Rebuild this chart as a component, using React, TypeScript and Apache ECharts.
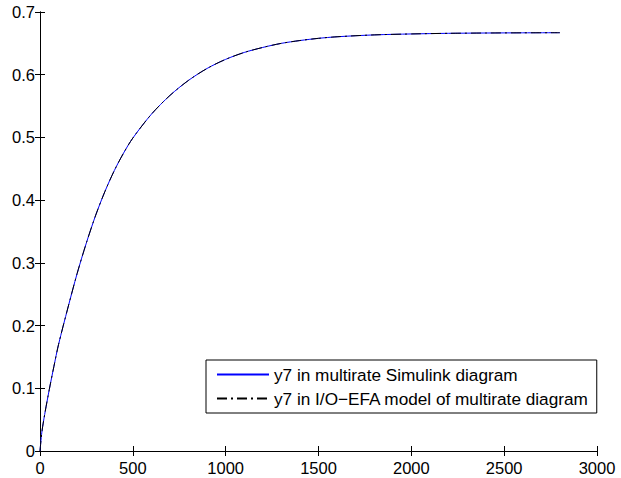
import React, { useEffect, useRef } from "react";
import * as echarts from "echarts";

const timeSteps = [0, 10, 25, 50, 75, 100, 150, 200, 250, 300, 350, 400, 450, 500, 600, 700, 800, 900, 1000, 1100, 1200, 1300, 1400, 1500, 1600, 1800, 2000, 2200, 2400, 2600, 2800];
const y7Simulink = [0, 0.03, 0.058, 0.098, 0.135, 0.17, 0.228, 0.283, 0.332, 0.376, 0.414, 0.447, 0.475, 0.499, 0.537, 0.567, 0.591, 0.61, 0.6245, 0.6355, 0.6435, 0.65, 0.6545, 0.658, 0.6605, 0.6635, 0.665, 0.666, 0.6665, 0.6668, 0.667];
const y7Efa = [0, 0.03, 0.058, 0.098, 0.135, 0.17, 0.228, 0.283, 0.332, 0.376, 0.414, 0.447, 0.475, 0.499, 0.537, 0.567, 0.591, 0.61, 0.6245, 0.6355, 0.6435, 0.65, 0.6545, 0.658, 0.6605, 0.6635, 0.665, 0.666, 0.6665, 0.6668, 0.667];
const seriesNames = ["y7 in multirate Simulink diagram", "y7 in I/O\u2212EFA model of multirate diagram"];

const FONT = "'Liberation Sans', Arial, Helvetica, sans-serif";

export default function App() {
  const ref = useRef<HTMLDivElement>(null);
  useEffect(() => {
    if (!ref.current) return;
    const chart = echarts.init(ref.current, undefined, { renderer: "svg" });
    const axisLine = { show: true, lineStyle: { color: "#000", width: 1 } };
    const tick = { show: true, inside: true, length: 5, lineStyle: { color: "#000", width: 1 } };
    chart.setOption({
      animation: false,
      backgroundColor: "#fff",
      grid: { left: 40, right: 24, top: 12, bottom: 27, containLabel: false },
      xAxis: [
        {
          type: "value", min: 0, max: 3000, interval: 500, position: "bottom",
          axisLine, axisTick: tick, splitLine: { show: false },
          axisLabel: { color: "#000", fontSize: 16.5, fontFamily: FONT, margin: 8, formatter: (v: number) => String(v) },
        },
        {
          type: "value", min: 0, max: 3000, interval: 500, position: "top",
          axisLine, axisTick: tick, splitLine: { show: false }, axisLabel: { show: false },
        },
      ],
      yAxis: [
        {
          type: "value", min: 0, max: 0.7, interval: 0.1, position: "left",
          axisLine, axisTick: tick, splitLine: { show: false },
          axisLabel: { color: "#000", fontSize: 16.5, fontFamily: FONT, margin: 5 },
        },
        {
          type: "value", min: 0, max: 0.7, interval: 0.1, position: "right",
          axisLine, axisTick: tick, splitLine: { show: false }, axisLabel: { show: false },
        },
      ],
      legend: {
        left: 206, top: 360, orient: "vertical",
        backgroundColor: "#fff", borderColor: "#000", borderWidth: 1, borderRadius: 0,
        padding: [6, 8, 6, 10], itemWidth: 52, itemHeight: 14, itemGap: 7,
        itemStyle: { opacity: 0 },
        textStyle: { color: "#000", fontSize: 17.2, fontFamily: FONT },
        data: seriesNames,
      },
      series: [
        {
          name: seriesNames[0], type: "line", symbol: "none", smooth: 0.3,
          lineStyle: { color: "#0000ff", width: 1 }, itemStyle: { color: "#0000ff" },
          data: timeSteps.map((t, i) => [t, y7Simulink[i]]),
        },
        {
          name: seriesNames[1], type: "line", symbol: "none", smooth: 0.3,
          lineStyle: { color: "#000", width: 1, type: [10, 4, 2, 4] }, itemStyle: { color: "#000" },
          data: timeSteps.map((t, i) => [t, y7Efa[i]]),
        },
      ],
    });
    return () => chart.dispose();
  }, []);
  return <div ref={ref} style={{ width: 621, height: 478, position: "absolute", left: 0, top: 0 }} />;
}
